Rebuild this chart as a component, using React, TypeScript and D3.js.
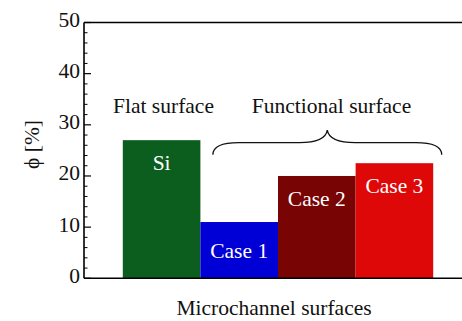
import React from "react";
import * as d3 from "d3";

const categories = ["Si", "Case 1", "Case 2", "Case 3"];
const phiValues = [27, 11, 20, 22.5];
const barColors = ["#0b5e1e", "#0000d6", "#780404", "#de0808"];
const yTicks = [0, 10, 20, 30, 40, 50];
const groupLabels = ["Flat surface", "Functional surface"];

const W = 462;
const H = 321;
const FONT = "'Liberation Serif', 'Times New Roman', Times, serif";
const txt: React.CSSProperties = { fontFamily: FONT, fontSize: "21.5px" };

export default function App() {
  const left = 84;
  const right = 472;
  const top = 22.5;
  const bottom = 278.3;

  const x = d3
    .scaleBand<string>()
    .domain(categories)
    .range([left, right])
    .paddingInner(0)
    .paddingOuter(0.5);
  const y = d3.scaleLinear().domain([0, 50]).range([bottom, top]);

  const minorTicks = d3.range(0, 51, 2).filter((t) => t % 10 !== 0);

  // curly brace spanning the functional-surface bars
  const bx0 = (x("Case 1") as number) + 12.5;
  const bx1 = (x("Case 3") as number) + x.bandwidth() + 8.5;
  const bm = (bx0 + bx1) / 2;
  const byLine = y(phiValues[0]) + 2.5;
  const byEnd = byLine + 12;
  const byPeak = byLine - 12.5;
  const brace = d3.path();
  brace.moveTo(bx0, byEnd);
  brace.bezierCurveTo(bx0, byLine + 3.5, bx0 + 9, byLine, bx0 + 26, byLine);
  brace.lineTo(bm - 28, byLine);
  brace.bezierCurveTo(bm - 12, byLine, bm - 1.5, byLine - 3, bm, byPeak);
  brace.bezierCurveTo(bm + 1.5, byLine - 3, bm + 12, byLine, bm + 28, byLine);
  brace.lineTo(bx1 - 26, byLine);
  brace.bezierCurveTo(bx1 - 9, byLine, bx1, byLine + 3.5, bx1, byEnd);

  return (
    <svg
      width={W}
      height={H}
      style={{ position: "absolute", left: 0, top: 0, background: "#fff" }}
    >
      <rect x={0} y={0} width={W} height={H} fill="#fff" />

      {/* bars */}
      {categories.map((c, i) => (
        <rect
          key={c}
          x={x(c)}
          y={y(phiValues[i])}
          width={x.bandwidth()}
          height={bottom - y(phiValues[i])}
          fill={barColors[i]}
        />
      ))}

      {/* bar labels */}
      {categories.map((c, i) => {
        const cx = (x(c) as number) + x.bandwidth() / 2;
        const by =
          c === "Case 1" ? y(phiValues[i] / 2) + 8 : y(phiValues[i]) + 30;
        return (
          <text key={c} x={cx} y={by} fill="#fff" style={txt} textAnchor="middle">
            {c}
          </text>
        );
      })}

      {/* frame */}
      <line x1={left} x2={right} y1={top} y2={top} stroke="#000" strokeWidth={1.6} />
      <line x1={left} x2={right} y1={bottom} y2={bottom} stroke="#000" strokeWidth={1.6} />
      <line x1={left} x2={left} y1={top} y2={bottom} stroke="#000" strokeWidth={1.6} />

      {/* y ticks */}
      {yTicks.map((t) => (
        <g key={t}>
          <line x1={left} x2={left + 7} y1={y(t)} y2={y(t)} stroke="#000" strokeWidth={1.2} />
          <text x={left - 4} y={y(t) + 4.5} style={txt} textAnchor="end" fill="#111">
            {t}
          </text>
        </g>
      ))}
      {minorTicks.map((t) => (
        <line key={t} x1={left} x2={left + 3.5} y1={y(t)} y2={y(t)} stroke="#000" strokeWidth={1} />
      ))}

      {/* group annotations */}
      <text x={163.5} y={112.7} style={txt} textAnchor="middle" fill="#111">
        {groupLabels[0]}
      </text>
      <text x={331.5} y={112.7} style={txt} textAnchor="middle" fill="#111">
        {groupLabels[1]}
      </text>
      <path d={brace.toString()} fill="none" stroke="#111" strokeWidth={1.3} />

      {/* axis titles */}
      <text
        transform={`translate(${39},${144.5}) rotate(-90)`}
        style={txt}
        textAnchor="middle"
        fill="#111"
      >
        ϕ [%]
      </text>
      <text x={274} y={315} style={txt} textAnchor="middle" fill="#111">
        Microchannel surfaces
      </text>
    </svg>
  );
}
